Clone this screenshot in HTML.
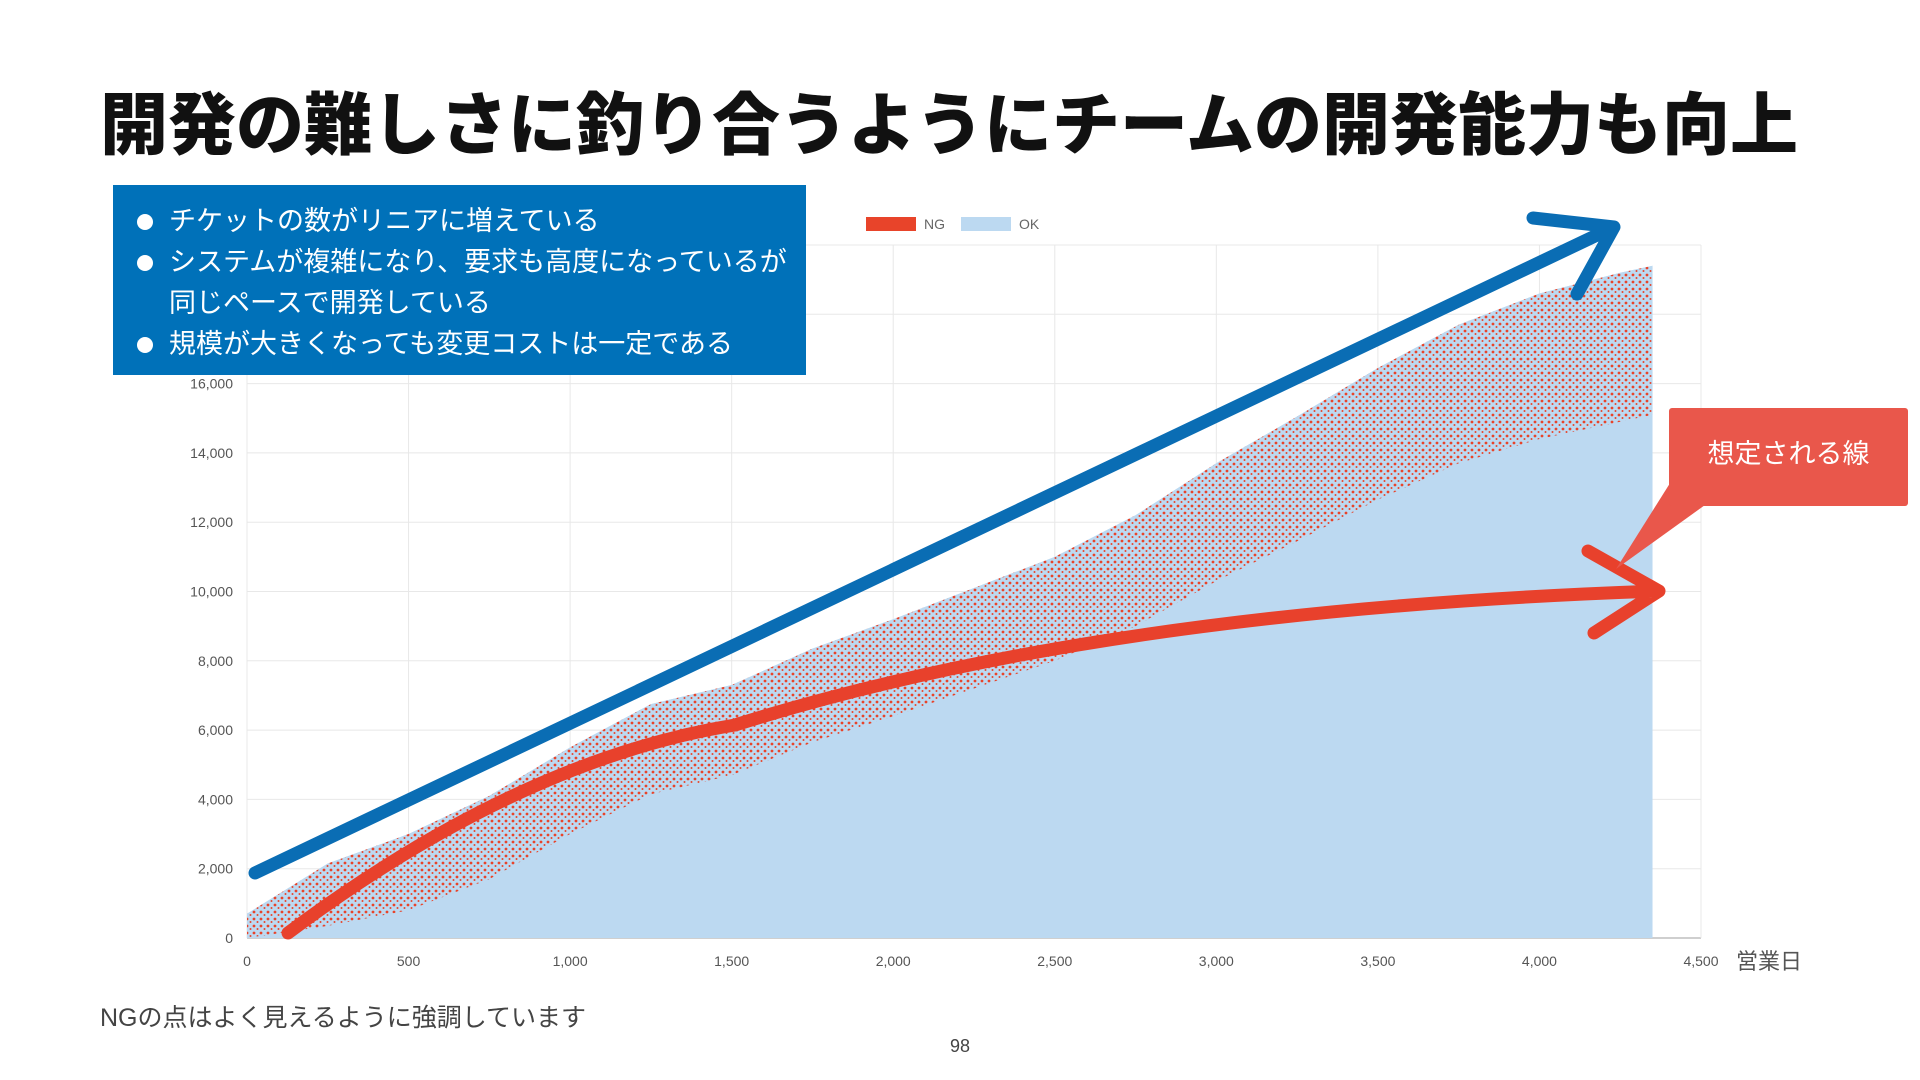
<!DOCTYPE html>
<html><head><meta charset="utf-8">
<style>
body{margin:0;width:1920px;height:1080px;background:#fff;overflow:hidden;font-family:"Liberation Sans","Noto Sans CJK JP",sans-serif;position:relative}
.abs{position:absolute}
#title{left:100px;top:70px;font-size:68px;font-weight:900;color:#111;letter-spacing:0px;white-space:nowrap}
#bullets{left:113px;top:185px;width:693px;height:190px;background:#0071b9;color:#fff;font-size:27px;line-height:41px;padding-top:16px;box-sizing:border-box}
#bullets div{padding-left:56px;position:relative;white-space:nowrap}
#bullets .dot::before{content:"";position:absolute;left:24px;top:13px;width:16px;height:16px;border-radius:50%;background:#fff}
#callout{left:1669px;top:408px;width:239px;height:98px;background:#e9574b;color:#fff;font-size:27px;display:flex;align-items:center;justify-content:center;border-radius:3px;padding-bottom:12px;box-sizing:border-box}
#foot{left:100px;top:998px;font-size:25px;color:#444}
#page{left:0;width:1920px;top:1036px;text-align:center;font-size:18px;color:#444}
</style></head><body>
<svg class="abs" style="left:0;top:0" width="1920" height="1080">
<defs>
<pattern id="ngdots" width="7" height="7" patternUnits="userSpaceOnUse">
<rect width="7" height="7" fill="#bcd9f1"/>
<circle cx="2" cy="2" r="1.4" fill="#e8442a"/>
<circle cx="5.5" cy="5" r="1" fill="#e8442a"/>
</pattern>
</defs>
<g id="grid"></g><g id="series"></g><g id="axes"></g><g id="ann"></g>
</svg>
<div id="title" class="abs">開発の難しさに釣り合うようにチームの開発能力も向上</div>
<div id="bullets" class="abs">
<div class="dot">チケットの数がリニアに増えている</div>
<div class="dot">システムが複雑になり、要求も高度になっているが</div>
<div>同じペースで開発している</div>
<div class="dot">規模が大きくなっても変更コストは一定である</div>
</div>
<div id="callout" class="abs">想定される線</div>
<div id="foot" class="abs">NGの点はよく見えるように強調しています</div>
<div id="page" class="abs">98</div>
<script>
const days=[0,250,500,750,1000,1250,1500,1750,2000,2250,2500,2750,3000,3250,3500,3750,4000,4250,4350];
const okUpper=[700,2150,3000,4100,5500,6750,7300,8350,9200,10100,11000,12200,13700,15050,16450,17700,18600,19200,19400];
const ngDepth=[700,1800,2200,2400,2500,2600,2600,2700,2800,2900,3000,3200,3400,3600,3800,4000,4200,4300,4300];
const xTicks=[0,500,1000,1500,2000,2500,3000,3500,4000,4500];
const yTicks=[0,2000,4000,6000,8000,10000,12000,14000,16000,18000,20000];
const X0=247,X1=1701,Y0=938,Y1=245;
const sx=v=>X0+(X1-X0)*v/4500, sy=v=>Y0-(Y0-Y1)*v/20000;
const NS="http://www.w3.org/2000/svg";
function mk(tag,parent,attrs){const e=document.createElementNS(NS,tag);for(const k in attrs)e.setAttribute(k,attrs[k]);document.getElementById(parent).appendChild(e);return e;}
yTicks.forEach(v=>{
 const l=mk('line','grid',{x1:X0,x2:X1,y1:sy(v),y2:sy(v),stroke:v===0?'#cfcfcf':'#e8e8e8','stroke-width':v===0?2:1});
 
 
 if(v<=16000){const t=mk('text','axes',{x:233,y:sy(v)+5,'text-anchor':'end','font-size':14,fill:'#555'});t.textContent=v.toLocaleString('en-US');
 
 }
});
xTicks.forEach(v=>{
 const l=mk('line','grid',{x1:sx(v),x2:sx(v),y1:Y1,y2:Y0,stroke:'#e8e8e8','stroke-width':1});
 
 
 const t=mk('text','axes',{x:sx(v),y:966,'text-anchor':'middle','font-size':14,fill:'#555'});t.textContent=v.toLocaleString('en-US');
 
 
});
const xt=mk('text','axes',{x:1736,y:969,'font-size':22,fill:'#555'});xt.textContent='営業日';


let p=days.map((d,i)=>sx(d)+','+sy(okUpper[i])).join(' ')+' '+sx(days[days.length-1])+','+sy(0)+' '+sx(0)+','+sy(0);
const ok=mk('polygon','series',{points:p,fill:'#bcd9f1'});


const upperPts=days.map((d,i)=>sx(d)+','+sy(okUpper[i]));
const lowerPts=days.map((d,i)=>sx(d)+','+sy(Math.max(0,okUpper[i]-ngDepth[i]))).reverse();
const ng=mk('polygon','series',{points:upperPts.concat(lowerPts).join(' '),fill:'url(#ngdots)'});


const lr=mk('rect','axes',{x:866,y:217,width:50,height:14,fill:'#e8442a'});


const lt=mk('text','axes',{x:924,y:229,'font-size':14,fill:'#666'});lt.textContent='NG';


const lr2=mk('rect','axes',{x:961,y:217,width:50,height:14,fill:'#bcd9f1'});


const lt2=mk('text','axes',{x:1019,y:229,'font-size':14,fill:'#666'});lt2.textContent='OK';


const ba=mk('path','ann',{d:'M255 873 L1614 227 M1533 218 L1614 227 L1577 294',stroke:'#0a6db4','stroke-width':13,fill:'none','stroke-linecap':'round','stroke-linejoin':'round'});


const ra=mk('path','ann',{d:'M288 933 Q520 760 735 725 Q1100 610 1659 591 M1588 551 L1659 591 L1594 633',stroke:'#e8412c','stroke-width':13,fill:'none','stroke-linecap':'round','stroke-linejoin':'round'});


const tri=mk('polygon','ann',{points:'1672,480 1705,505 1616,569',fill:'#e9574b'});


</script>
</body></html>
